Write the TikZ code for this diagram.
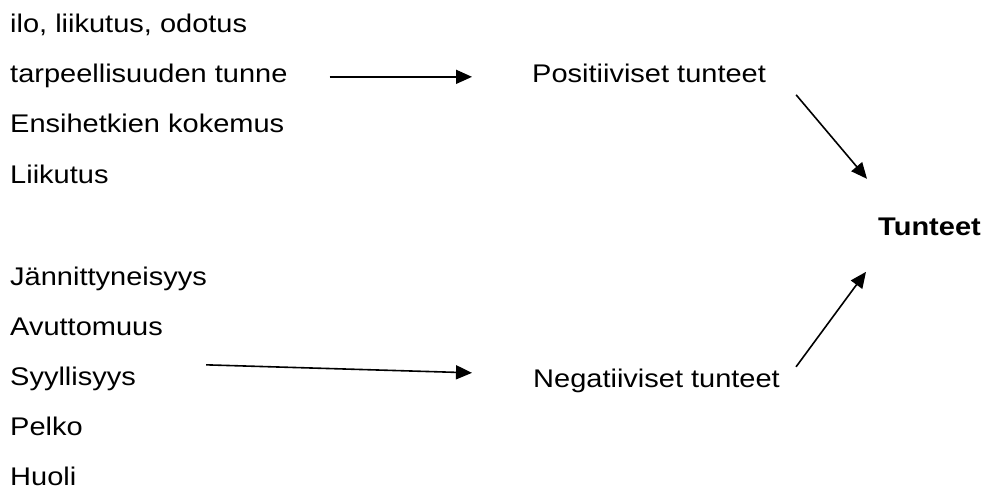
\documentclass[tikz,border=0pt]{standalone}
\usepackage{fontspec}
\setmainfont{Liberation Sans}
\usetikzlibrary{arrows.meta,calc}
\begin{document}
\begin{tikzpicture}[x=1pt,y=-1pt,
  txt/.style={font=\fontsize{29}{29}\selectfont, inner sep=0pt, anchor=base west,
    yscale=0.88, text height=20pt, text depth=6pt},
  arr/.style={-{Triangle[length=16pt,width=14pt]}, line width=1.6pt}]
\useasboundingbox[fill=white] (0,0) rectangle (988,492);
% left column, positive
\node[txt] (ilo)  at (10,33)  {ilo, liikutus, odotus};
\node[txt] (tarp) at (10,83)  {tarpeellisuuden tunne};
\node[txt] (ensi) at (10,133) {Ensihetkien kokemus};
\node[txt] (liik) at (10,183) {Liikutus};
% left column, negative
\node[txt] (jann) at (10,285) {Jännittyneisyys};
\node[txt] (avut) at (10,335) {Avuttomuus};
\node[txt] (syyl) at (10,385) {Syyllisyys};
\node[txt] (pelk) at (10,435) {Pelko};
\node[txt] (huol) at (10,485) {Huoli};
% middle
\node[txt] (pos) at (532,83)  {Positiiviset tunteet};
\node[txt] (neg) at (533,387) {Negatiiviset tunteet};
% right
\node[txt,font=\fontsize{29}{29}\selectfont\bfseries] (tun) at (878,235) {Tunteet};
% connectors
\draw[arr] ($(tarp.east)+(42,0)$) -- ($(pos.west)+(-60,0)$);
\draw[arr] ($(syyl.east)+(70,-14)$) -- ($(neg.west)+(-61,-8)$);
\draw[arr] ($(pos.east)+(30,18)$) -- ($(tun.west)+(-11,-50)$);
\draw[arr] ($(neg.east)+(16,-14)$) -- ($(tun.west)+(-12,43)$);
\end{tikzpicture}
\end{document}
